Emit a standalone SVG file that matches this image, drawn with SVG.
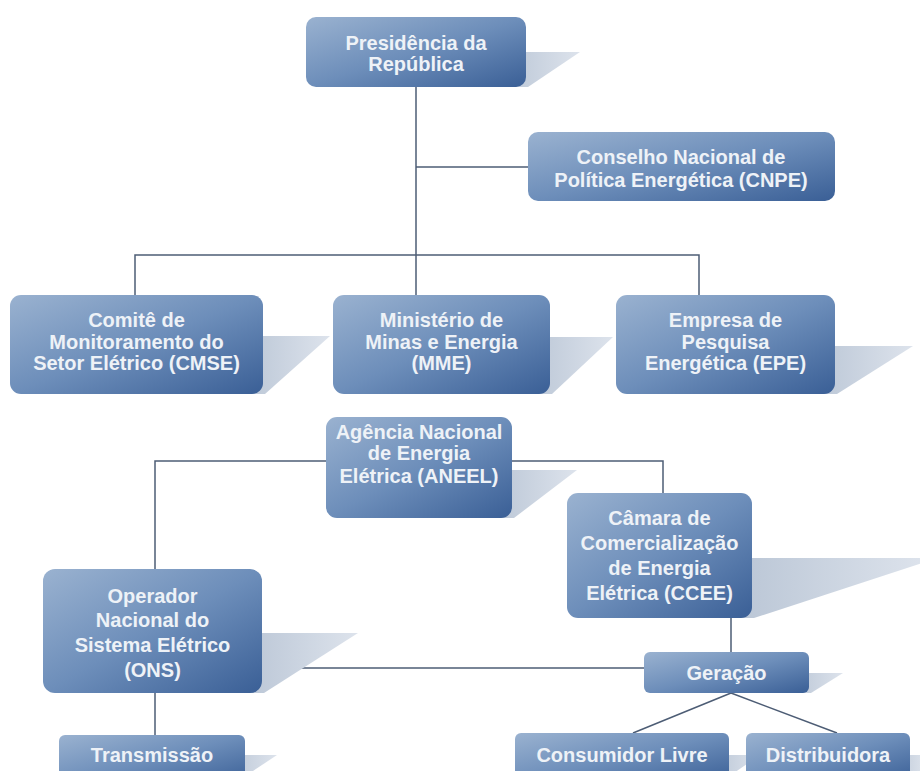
<svg xmlns="http://www.w3.org/2000/svg" width="920" height="771" viewBox="0 0 920 771">
<defs>
<linearGradient id="boxg" x1="0" y1="0" x2="1" y2="1">
<stop offset="0" stop-color="#9ab2d0"/>
<stop offset="0.5" stop-color="#6d8eba"/>
<stop offset="1" stop-color="#3a5f96"/>
</linearGradient>
<linearGradient id="shg" x1="0" y1="0" x2="1" y2="0">
<stop offset="0" stop-color="#b9c5d5"/>
<stop offset="1" stop-color="#dde3ec"/>
</linearGradient>
<style>
.box{fill:url(#boxg);}
.sh{fill:url(#shg);}
.t{font-family:"Liberation Sans",Arial,sans-serif;font-weight:bold;font-size:20px;fill:#eef2f7;text-anchor:middle;}
.c{fill:none;stroke:#4d5d75;stroke-width:1.5;}
</style>
</defs>
<rect width="920" height="771" fill="#ffffff"/>
<g id="connectors">
<path class="c" d="M416,87 V295"/>
<path class="c" d="M416,167 H528"/>
<path class="c" d="M135,295 V255 H699 V295"/>
<path class="c" d="M326,461 H155 V569"/>
<path class="c" d="M512,461 H663 V493"/>
<path class="c" d="M731,618 V652"/>
<path class="c" d="M262,668 H644"/>
<path class="c" d="M155,693 V735"/>
<path class="c" d="M731,693 L633,733 M731,693 L837,733"/>
</g>
<g id="presidencia">
<polygon class="sh" points="500,52 580,52 528,87 500,87"/>
<rect class="box" x="306" y="17" width="220" height="70" rx="10"/>
<text class="t" x="416" y="50">Presidência da</text>
<text class="t" x="416" y="71">República</text>
</g>
<g id="cnpe">
<rect class="box" x="528" y="132" width="307" height="69" rx="10"/>
<text class="t" x="681" y="164">Conselho Nacional de</text>
<text class="t" x="681" y="187">Política Energética (CNPE)</text>
</g>
<g id="cmse">
<polygon class="sh" points="240,336 330,336 265,394 240,394"/>
<rect class="box" x="10" y="295" width="253" height="99" rx="11"/>
<text class="t" x="136.5" y="327">Comitê de</text>
<text class="t" x="136.5" y="349">Monitoramento do</text>
<text class="t" x="136.5" y="370">Setor Elétrico (CMSE)</text>
</g>
<g id="mme">
<polygon class="sh" points="525,337 613,337 552,394 525,394"/>
<rect class="box" x="333" y="295" width="217" height="99" rx="11"/>
<text class="t" x="441.5" y="327">Ministério de</text>
<text class="t" x="441.5" y="349">Minas e Energia</text>
<text class="t" x="441.5" y="370">(MME)</text>
</g>
<g id="epe">
<polygon class="sh" points="810,346 913,346 837,394 810,394"/>
<rect class="box" x="616" y="295" width="219" height="99" rx="11"/>
<text class="t" x="725.5" y="327">Empresa de</text>
<text class="t" x="725.5" y="349">Pesquisa</text>
<text class="t" x="725.5" y="370">Energética (EPE)</text>
</g>
<g id="aneel">
<polygon class="sh" points="490,470 577,470 514,518 490,518"/>
<rect class="box" x="326" y="417" width="186" height="101" rx="11"/>
<text class="t" x="419" y="439">Agência Nacional</text>
<text class="t" x="419" y="460">de Energia</text>
<text class="t" x="419" y="483">Elétrica (ANEEL)</text>
</g>
<g id="ccee">
<polygon class="sh" points="730,558 925,558 925,562 754,618 730,618"/>
<rect class="box" x="567" y="493" width="185" height="125" rx="11"/>
<text class="t" x="659.5" y="525">Câmara de</text>
<text class="t" x="659.5" y="550">Comercialização</text>
<text class="t" x="659.5" y="575">de Energia</text>
<text class="t" x="659.5" y="600">Elétrica (CCEE)</text>
</g>
<g id="ons">
<polygon class="sh" points="240,633 358,633 264,693 240,693"/>
<rect class="box" x="43" y="569" width="219" height="124" rx="12"/>
<text class="t" x="152.5" y="603">Operador</text>
<text class="t" x="152.5" y="627">Nacional do</text>
<text class="t" x="152.5" y="652">Sistema Elétrico</text>
<text class="t" x="152.5" y="677">(ONS)</text>
</g>
<g id="transmissao">
<polygon class="sh" points="225,755 277,755 247,775 225,775"/>
<rect class="box" x="59" y="735" width="186" height="50" rx="6"/>
<text class="t" x="152" y="762">Transmissão</text>
</g>
<g id="geracao">
<polygon class="sh" points="790,673 843,673 811,693 790,693"/>
<rect class="box" x="644" y="652" width="165" height="41" rx="6"/>
<text class="t" x="726.5" y="680">Geração</text>
</g>
<g id="consumidor-livre">
<polygon class="sh" points="710,755 760,755 731,775 710,775"/>
<rect class="box" x="515" y="733" width="214" height="50" rx="6"/>
<text class="t" x="622" y="762">Consumidor Livre</text>
</g>
<g id="distribuidora">
<polygon class="sh" points="890,755 925,755 925,775 890,775"/>
<rect class="box" x="746" y="733" width="164" height="50" rx="6"/>
<text class="t" x="828" y="762">Distribuidora</text>
</g>
</svg>
